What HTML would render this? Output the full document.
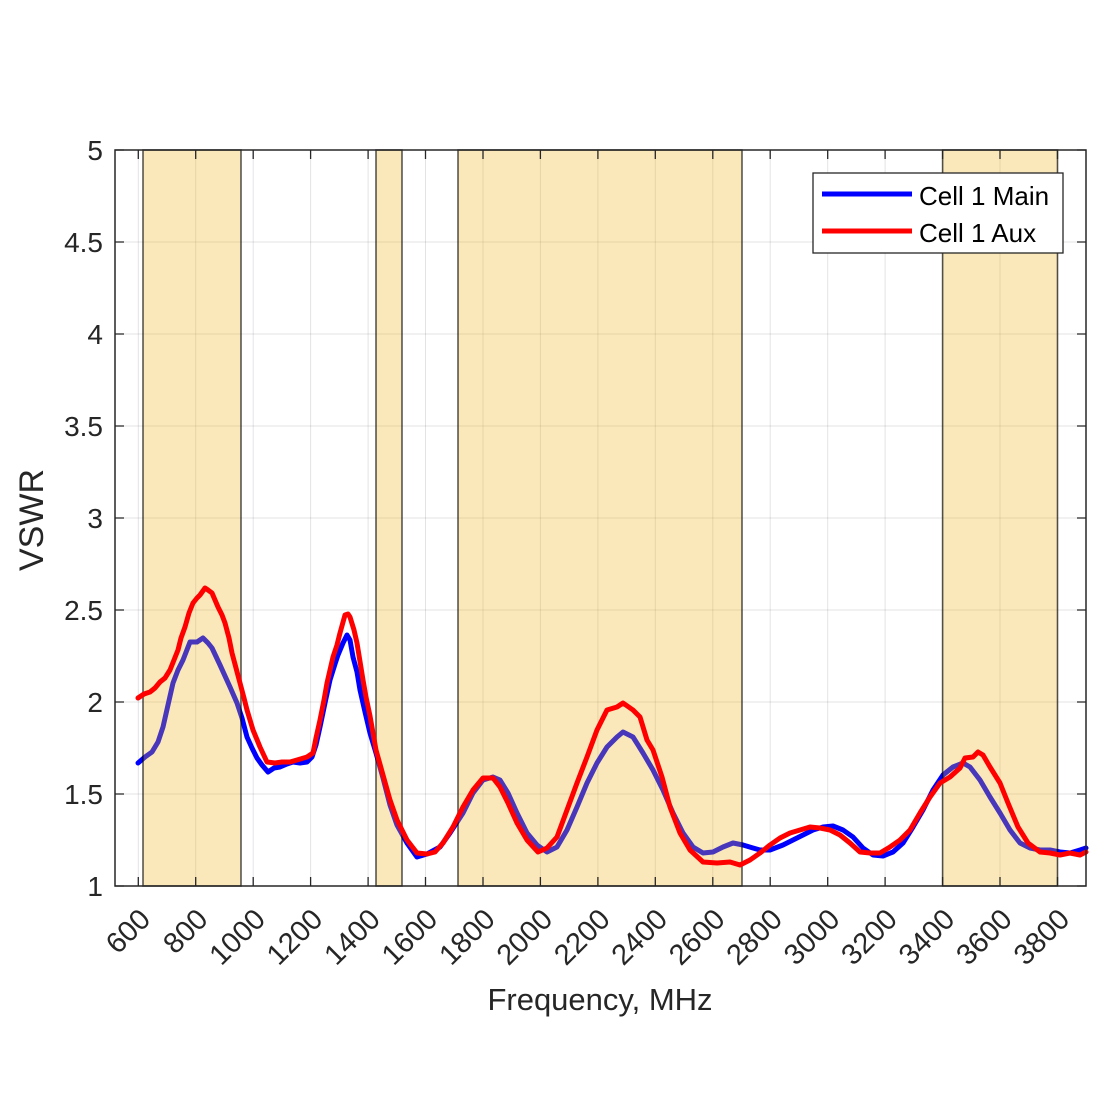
<!DOCTYPE html>
<html>
<head>
<meta charset="utf-8">
<style>
html,body{margin:0;padding:0;background:#fff;}
svg{display:block;}
text{font-family:"Liberation Sans",Arial,sans-serif;fill:#262626;}
</style>
</head>
<body>
<svg width="1100" height="1100" viewBox="0 0 1100 1100" xmlns="http://www.w3.org/2000/svg">
<rect x="0" y="0" width="1100" height="1100" fill="#fff"/>
<rect x="115" y="150" width="971" height="736" fill="#fff"/>

<!-- grid -->
<g stroke="#262626" stroke-opacity="0.13" stroke-width="1">
<line x1="138.3" y1="150" x2="138.3" y2="886"/>
<line x1="195.7" y1="150" x2="195.7" y2="886"/>
<line x1="253.2" y1="150" x2="253.2" y2="886"/>
<line x1="310.6" y1="150" x2="310.6" y2="886"/>
<line x1="368.1" y1="150" x2="368.1" y2="886"/>
<line x1="425.5" y1="150" x2="425.5" y2="886"/>
<line x1="483" y1="150" x2="483" y2="886"/>
<line x1="540.4" y1="150" x2="540.4" y2="886"/>
<line x1="597.9" y1="150" x2="597.9" y2="886"/>
<line x1="655.3" y1="150" x2="655.3" y2="886"/>
<line x1="712.8" y1="150" x2="712.8" y2="886"/>
<line x1="770.2" y1="150" x2="770.2" y2="886"/>
<line x1="827.7" y1="150" x2="827.7" y2="886"/>
<line x1="885.1" y1="150" x2="885.1" y2="886"/>
<line x1="942.6" y1="150" x2="942.6" y2="886"/>
<line x1="1000" y1="150" x2="1000" y2="886"/>
<line x1="1057.5" y1="150" x2="1057.5" y2="886"/>
<line x1="115" y1="794" x2="1086" y2="794"/>
<line x1="115" y1="702" x2="1086" y2="702"/>
<line x1="115" y1="610" x2="1086" y2="610"/>
<line x1="115" y1="518" x2="1086" y2="518"/>
<line x1="115" y1="426" x2="1086" y2="426"/>
<line x1="115" y1="334" x2="1086" y2="334"/>
<line x1="115" y1="242" x2="1086" y2="242"/>
</g>

<!-- blue data (under bands) -->
<g fill="none" stroke-width="5" stroke-linejoin="round" stroke-linecap="round">
<polyline stroke="#0000ff" points="138,763 145,757 152,752 158,742 163,727 168,705 173,683 178,670 183,660 190,642 197,642 203,638 208,643 212,648 220,665 230,687 237,703 242,718 247,737 252,748 257,758 262,765 268,772 274,768 280,767 287,764 293,762 300,763 307,762 312,757 316,745 320,727 325,703 330,680 335,664 338,655 343,643 347,635 350,640 353,657 357,672 360,690 365,712 370,733 376,753 383,778 390,805 397,825 407,843 417,857 427,854 440,847 450,833 463,813 473,793 483,780 493,777 500,780 508,793 517,813 527,833 537,845 547,852 557,847 567,830 577,807 587,783 597,763 607,747 617,737 623,732 633,737 643,753 653,770 663,790 673,813 683,833 693,847 703,853 713,852 723,847 733,843 743,845 753,848 760,850 770,850 783,845 793,840 803,835 813,830 823,827 833,826 843,830 853,837 863,848 873,855 883,856 893,852 903,843 913,827 923,810 933,790 943,775 953,767 963,763 970,767 980,780 990,797 1000,813 1010,830 1020,843 1030,848 1040,850 1050,850 1060,852 1070,853 1080,850 1086,848"/>
</g>

<!-- bands -->
<g fill="rgb(240,180,30)" fill-opacity="0.3" stroke="#000" stroke-opacity="0.65" stroke-width="1.6">
<rect x="143" y="150" width="98" height="736"/>
<rect x="376" y="150" width="26" height="736"/>
<rect x="458" y="150" width="284" height="736"/>
<rect x="942.6" y="150" width="114.9" height="736"/>
</g>

<!-- red data (over bands) -->
<g fill="none" stroke-width="5" stroke-linejoin="round" stroke-linecap="round">
<polyline stroke="#ff0000" points="138,698 144,694 150,692 155,688 160,682 165,678 170,670 174,660 178,650 181,638 185,627 189,613 193,603 197,598 200,595 205,588 208,590 212,593 218,607 222,615 225,623 229,638 232,653 236,668 240,683 244,698 247,710 253,730 260,747 267,762 275,763 282,762 290,762 297,760 307,757 313,753 316,738 320,720 324,700 327,683 333,657 337,645 340,633 345,615 348,614 350,617 354,630 357,643 363,680 366,697 370,716 376,750 383,775 390,800 397,820 407,840 417,853 427,854 435,852 443,843 453,827 463,807 473,790 483,778 493,778 500,787 508,803 517,823 527,840 538,852 547,848 557,837 567,810 577,783 587,757 597,730 607,710 617,707 623,703 633,710 640,717 647,740 653,750 662,777 670,807 680,833 690,850 703,862 717,863 730,862 740,865 750,860 760,853 770,845 780,838 790,833 800,830 810,827 820,828 830,830 840,835 850,843 860,852 870,853 880,853 890,847 900,840 910,830 920,813 930,797 940,783 950,777 960,768 965,758 973,757 978,752 983,755 990,767 1000,783 1008,803 1018,827 1028,843 1040,852 1050,853 1060,855 1070,853 1080,855 1086,852"/>
</g>

<!-- ticks -->
<g stroke="#262626" stroke-width="1.3">
<path d="M138.3 886v-9M195.7 886v-9M253.2 886v-9M310.6 886v-9M368.1 886v-9M425.5 886v-9M483 886v-9M540.4 886v-9M597.9 886v-9M655.3 886v-9M712.8 886v-9M770.2 886v-9M827.7 886v-9M885.1 886v-9M942.6 886v-9M1000 886v-9M1057.5 886v-9"/>
<path d="M138.3 150v9M195.7 150v9M253.2 150v9M310.6 150v9M368.1 150v9M425.5 150v9M483 150v9M540.4 150v9M597.9 150v9M655.3 150v9M712.8 150v9M770.2 150v9M827.7 150v9M885.1 150v9M942.6 150v9M1000 150v9M1057.5 150v9"/>
<path d="M115 886h9M115 794h9M115 702h9M115 610h9M115 518h9M115 426h9M115 334h9M115 242h9M115 150h9"/>
<path d="M1086 886h-9M1086 794h-9M1086 702h-9M1086 610h-9M1086 518h-9M1086 426h-9M1086 334h-9M1086 242h-9M1086 150h-9"/>
</g>
<rect x="115" y="150" width="971" height="736" fill="none" stroke="#262626" stroke-width="1.5"/>

<!-- y tick labels -->
<g font-size="28" text-anchor="end">
<text x="103" y="896">1</text>
<text x="103" y="804">1.5</text>
<text x="103" y="712">2</text>
<text x="103" y="620">2.5</text>
<text x="103" y="528">3</text>
<text x="103" y="436">3.5</text>
<text x="103" y="344">4</text>
<text x="103" y="252">4.5</text>
<text x="103" y="160">5</text>
</g>

<!-- x tick labels -->
<g font-size="29" text-anchor="end">
<text transform="translate(152,921) rotate(-45)">600</text>
<text transform="translate(209.4,921) rotate(-45)">800</text>
<text transform="translate(266.9,921) rotate(-45)">1000</text>
<text transform="translate(324.3,921) rotate(-45)">1200</text>
<text transform="translate(381.8,921) rotate(-45)">1400</text>
<text transform="translate(439.2,921) rotate(-45)">1600</text>
<text transform="translate(496.7,921) rotate(-45)">1800</text>
<text transform="translate(554.1,921) rotate(-45)">2000</text>
<text transform="translate(611.6,921) rotate(-45)">2200</text>
<text transform="translate(669,921) rotate(-45)">2400</text>
<text transform="translate(726.5,921) rotate(-45)">2600</text>
<text transform="translate(783.9,921) rotate(-45)">2800</text>
<text transform="translate(841.4,921) rotate(-45)">3000</text>
<text transform="translate(898.8,921) rotate(-45)">3200</text>
<text transform="translate(956.3,921) rotate(-45)">3400</text>
<text transform="translate(1013.7,921) rotate(-45)">3600</text>
<text transform="translate(1071.2,921) rotate(-45)">3800</text>
</g>

<!-- axis labels -->
<text x="600" y="1010" font-size="31" text-anchor="middle">Frequency, MHz</text>
<text transform="translate(43,520) rotate(-90)" font-size="34" text-anchor="middle">VSWR</text>

<!-- legend -->
<rect x="813" y="173" width="250" height="80" fill="#fff" stroke="#262626" stroke-width="1.3"/>
<line x1="822" y1="194" x2="912" y2="194" stroke="#0000ff" stroke-width="5"/>
<line x1="822" y1="231" x2="912" y2="231" stroke="#ff0000" stroke-width="5"/>
<text x="919" y="205" font-size="26" style="fill:#000">Cell 1 Main</text>
<text x="919" y="242" font-size="26" style="fill:#000">Cell 1 Aux</text>
</svg>
</body>
</html>
